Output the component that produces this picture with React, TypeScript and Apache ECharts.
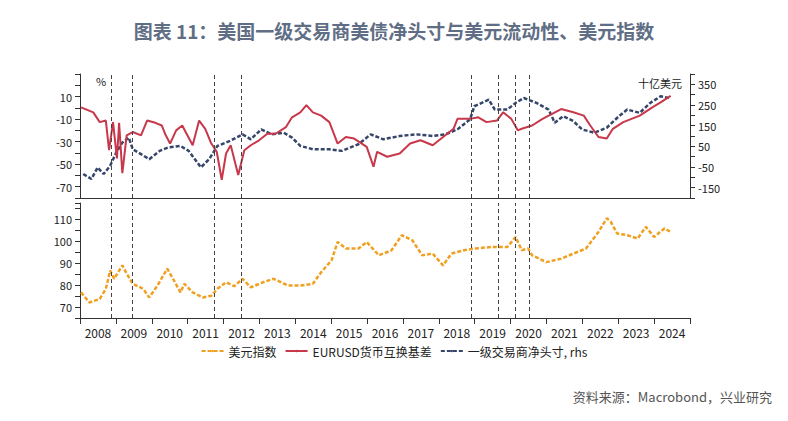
import React, { useEffect, useRef } from "react";
import * as echarts from "echarts";

const years = ["2008","2009","2010","2011","2012","2013","2014","2015","2016","2017","2018","2019","2020","2021","2022","2023","2024"];

const basis: [number, number][] = [
[2008.03,0.4],[2008.37,-4],[2008.55,-12.7],[2008.72,-11.3],[2008.81,-37.6],[2008.92,-12.7],[2009.03,-44.9],[2009.09,-13.3],[2009.18,-58],[2009.3,-24.4],[2009.47,-21.5],[2009.7,-24.4],[2009.87,-11.3],[2010.1,-13.3],[2010.28,-15.7],[2010.39,-24.4],[2010.51,-31.7],[2010.68,-20],[2010.85,-15.7],[2010.97,-23],[2011.14,-33.2],[2011.32,-11.3],[2011.49,-18.6],[2011.66,-31.7],[2011.81,-39],[2011.95,-63.8],[2012.07,-40.5],[2012.2,-33.2],[2012.41,-59.5],[2012.58,-37.6],[2012.76,-33.2],[2012.99,-28.8],[2013.22,-23],[2013.45,-23],[2013.74,-17.1],[2013.91,-8.4],[2014.14,-4],[2014.31,2.4],[2014.49,-4],[2014.72,-6.9],[2014.95,-12.7],[2015.18,-31.7],[2015.41,-25.9],[2015.64,-27.3],[2015.99,-34.6],[2016.18,-52.2],[2016.28,-39],[2016.56,-43.4],[2016.91,-40.5],[2017.2,-31.7],[2017.49,-28.8],[2017.83,-33.2],[2018.12,-25.9],[2018.41,-18.6],[2018.52,-9.8],[2018.87,-9.8],[2019.1,-8.4],[2019.33,-12.7],[2019.62,-11.3],[2019.79,-4],[2020.02,-9.8],[2020.2,-20],[2020.31,-18.6],[2020.6,-15.7],[2020.89,-9.8],[2021.41,-1.1],[2021.75,-4],[2022.04,-6.9],[2022.22,-15.7],[2022.45,-25.9],[2022.68,-27.3],[2022.85,-18.6],[2023.14,-12.7],[2023.6,-6.9],[2023.95,0.4],[2024.18,4.8],[2024.46,10.6]
];

const dealer: [number, number][] = [
[2008.09,-84],[2008.32,-108],[2008.49,-52],[2008.66,-84],[2008.84,-44],[2009.01,20],[2009.18,68],[2009.36,92],[2009.47,36],[2009.7,12],[2009.93,-12],[2010.22,28],[2010.45,44],[2010.8,52],[2011.03,28],[2011.37,-52],[2011.6,-12],[2011.83,52],[2012.18,76],[2012.53,108],[2012.76,84],[2013.05,132],[2013.34,108],[2013.68,116],[2013.91,92],[2014.14,52],[2014.49,36],[2014.95,36],[2015.3,28],[2015.76,60],[2016.1,108],[2016.45,84],[2016.91,100],[2017.37,108],[2017.83,100],[2018.18,108],[2018.52,132],[2018.87,180],[2018.99,244],[2019.39,276],[2019.56,228],[2019.91,228],[2020.14,260],[2020.37,284],[2020.72,260],[2021.06,228],[2021.23,164],[2021.47,196],[2021.75,172],[2021.99,132],[2022.33,116],[2022.68,140],[2023.02,196],[2023.25,228],[2023.6,212],[2023.89,260],[2024.18,292],[2024.41,284]
];

const dxy: [number, number][] = [
[2008.03,76.7],[2008.26,72.1],[2008.55,73.7],[2008.72,78.3],[2008.84,86.7],[2008.95,82.9],[2009.18,89],[2009.36,83.6],[2009.47,80.6],[2009.76,78.3],[2009.93,74.4],[2010.16,79.8],[2010.43,87.5],[2010.62,82.1],[2010.8,76.7],[2010.91,80.6],[2011.14,76.7],[2011.43,74.4],[2011.66,75.2],[2011.83,78.3],[2012.07,81.3],[2012.3,79.5],[2012.53,82.9],[2012.76,79],[2013.1,81.3],[2013.39,82.9],[2013.8,79.8],[2014.14,79.8],[2014.49,80.6],[2014.72,85.9],[2015.01,91.3],[2015.18,99.7],[2015.41,96.7],[2015.76,96.7],[2015.99,99.7],[2016.33,93.6],[2016.68,95.9],[2016.97,102.8],[2017.26,100.5],[2017.54,93.6],[2017.83,94.4],[2018.12,89],[2018.35,94.4],[2018.7,95.9],[2018.99,96.7],[2019.45,97.4],[2019.91,97.4],[2020.14,102],[2020.31,95.9],[2020.49,96.7],[2020.6,93.6],[2021.0,90.5],[2021.41,92.1],[2021.75,94.4],[2022.1,96.7],[2022.45,104.3],[2022.68,110.5],[2022.79,109],[2022.97,103.6],[2023.25,102.8],[2023.54,101.3],[2023.77,106.6],[2024.0,102],[2024.29,105.9],[2024.46,104.3]
];

const eventLines = [2008.87, 2009.45, 2011.75, 2012.49, 2018.91, 2019.66, 2020.13, 2020.51];

const RED = "#c8374a";
const NAVY = "#36466a";
const ORANGE = "#f0a020";
const FONT = "'Noto Sans CJK SC', 'DejaVu Sans', sans-serif";

export default function App() {
  const ref = useRef<HTMLDivElement>(null);
  useEffect(() => {
    const chart = echarts.init(ref.current!, null, { renderer: "svg" });
    const axisLine = { lineStyle: { color: "#333" } };
    const lbl = { color: "#222", fontSize: 11, fontFamily: FONT };
    const markLine = {
      silent: true,
      symbol: "none",
      label: { show: false },
      lineStyle: { type: [4, 3], color: "#444", width: 1 },
      data: eventLines.map((v) => ({ xAxis: v })),
    };
    chart.setOption({
      animation: false,
      title: {
        text: "图表 11：美国一级交易商美债净头寸与美元流动性、美元指数",
        left: "center",
        top: 8,
        textStyle: { fontSize: 19, fontWeight: "bold", color: "#5f6e85", fontFamily: FONT },
      },
      legend: {
        top: 332,
        left: "center",
        itemWidth: 22,
        itemHeight: 3,
        itemGap: 8,
        textStyle: { fontSize: 12, color: "#222", fontFamily: FONT },
        data: ["美元指数", "EURUSD货币互换基差", "一级交易商净头寸, rhs"],
      },
      graphic: [
        { type: "text", right: 8, top: 382, style: { text: "资料来源：Macrobond，兴业研究", fontSize: 13, fill: "#555", fontFamily: FONT } },
      ],
      grid: [
        { left: 72, right: 90, top: 66, height: 124 },
        { left: 72, right: 90, top: 195, height: 115 },
      ],
      xAxis: [
        { type: "value", gridIndex: 0, min: 2008, max: 2025, axisLine: { ...axisLine, onZero: false }, axisTick: { show: false }, axisLabel: { show: false }, splitLine: { show: false } },
        { type: "value", gridIndex: 1, min: 2008, max: 2025, show: false, splitLine: { show: false } },
        { type: "category", gridIndex: 1, data: years, boundaryGap: true, position: "bottom", axisLine, axisTick: { show: true, length: 6, lineStyle: { color: "#333" } }, axisLabel: { ...lbl, fontSize: 12, margin: 8 }, splitLine: { show: false } },
      ],
      yAxis: [
        {
          type: "value", gridIndex: 0, min: -80, max: 30, interval: 10, name: "%", nameLocation: "end", nameGap: -12,
          nameTextStyle: { ...lbl, align: "left", padding: [0, 0, 0, 16] },
          axisLine: { show: true, ...axisLine }, axisTick: { show: true, length: 5 },
          axisLabel: { ...lbl, formatter: (v: number) => ((v + 10) % 20 === 0 && v < 30 ? String(v) : "") },
          splitLine: { show: false },
        },
        {
          type: "value", gridIndex: 0, min: -200, max: 400, interval: 50, position: "right", name: "十亿美元", nameLocation: "end", nameGap: -14,
          nameTextStyle: { ...lbl, align: "right", padding: [0, 8, 0, 0] },
          axisLine: { show: true, ...axisLine }, axisTick: { show: true, length: 5 },
          axisLabel: { ...lbl, formatter: (v: number) => ((v - 50) % 100 === 0 ? String(v) : "") },
          splitLine: { show: false },
        },
        {
          type: "value", gridIndex: 1, min: 65, max: 117.5, interval: 5,
          axisLine: { show: true, ...axisLine }, axisTick: { show: true, length: 5 },
          axisLabel: { ...lbl, formatter: (v: number) => (v % 10 === 0 ? String(v) : "") },
          splitLine: { show: false },
        },
      ],
      series: [
        {
          name: "美元指数", type: "line", xAxisIndex: 1, yAxisIndex: 2, data: dxy, symbol: "none",
          lineStyle: { color: ORANGE, width: 2.5, type: [4, 2] }, itemStyle: { color: ORANGE }, markLine,
        },
        {
          name: "EURUSD货币互换基差", type: "line", xAxisIndex: 0, yAxisIndex: 0, data: basis, symbol: "none",
          lineStyle: { color: RED, width: 2 }, itemStyle: { color: RED }, markLine, z: 3,
        },
        {
          name: "一级交易商净头寸, rhs", type: "line", xAxisIndex: 0, yAxisIndex: 1, data: dealer, symbol: "none",
          lineStyle: { color: NAVY, width: 2.5, type: [4, 2] }, itemStyle: { color: NAVY }, z: 2,
        },
      ],
    });
    return () => chart.dispose();
  }, []);
  return <div ref={ref} style={{ width: 772, height: 405 }} />;
}
